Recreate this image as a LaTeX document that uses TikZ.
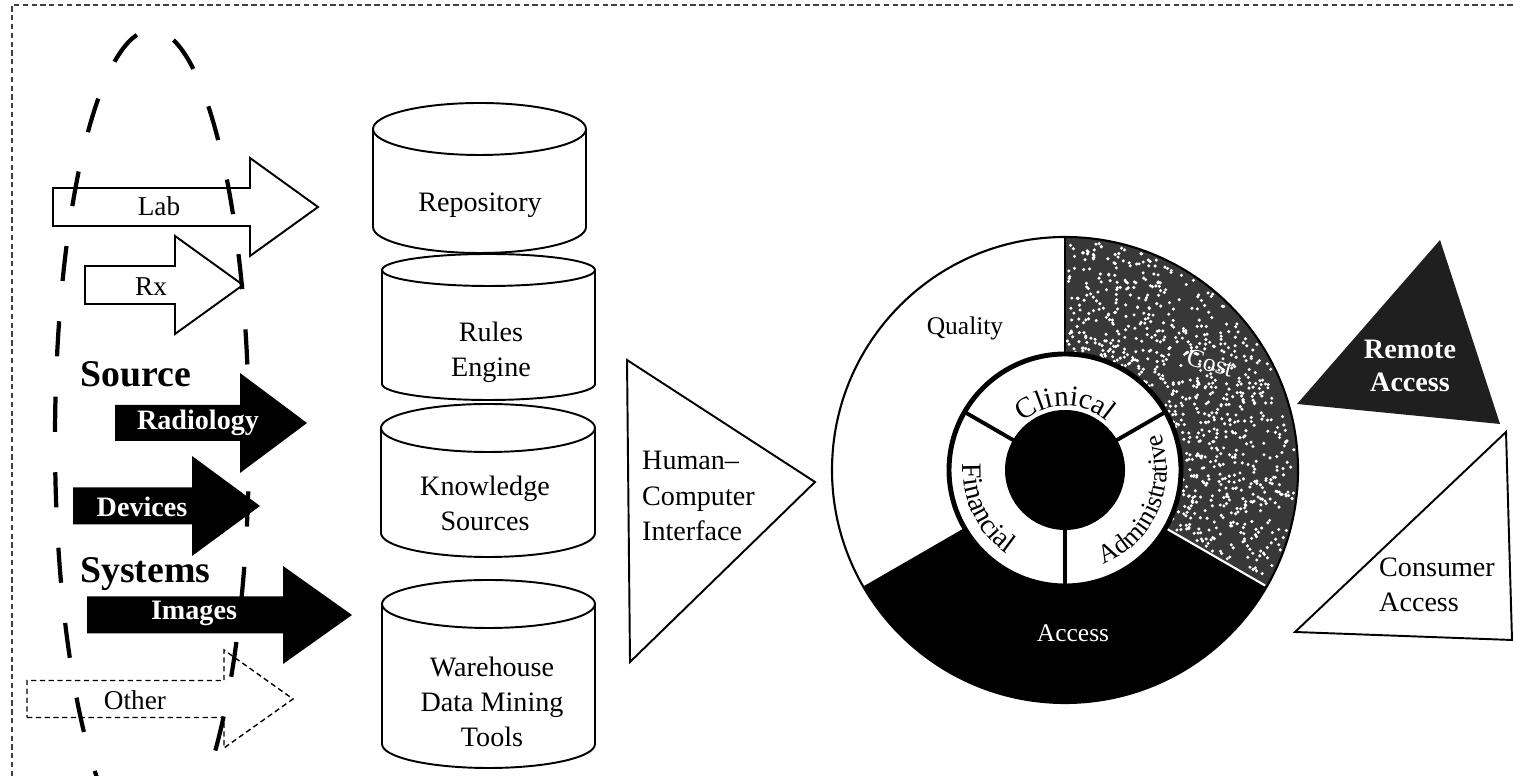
\documentclass[tikz,border=0pt]{standalone}
\usepackage{fontspec}
\setmainfont{Liberation Serif}
\usetikzlibrary{decorations.text}

\newcommand{\srcarrow}[7]{\path[#1] (#2,#5-#6) -- (#3,#5-#6) -- (#3,#5-#7) -- (#4,#5) -- (#3,#5+#7) -- (#3,#5+#6) -- (#2,#5+#6) -- cycle;}
\newcommand{\drum}[5]{%
  \path[drumline] (#1-#2,#3) -- (#1-#2,#4) arc[start angle=180,end angle=360,x radius=#2,y radius=#5]
    -- (#1+#2,#3) arc[start angle=0,end angle=180,x radius=#2,y radius=#5] -- cycle;
  \draw[line width=1.1pt] (#1-#2,#3) arc[start angle=180,end angle=360,x radius=#2,y radius=#5];}

\tikzset{
  frameline/.style={draw=black!75, line width=0.9pt, densely dashed},
  drumline/.style={draw, line width=1.1pt, fill=white},
  drumtext/.style={font=\fontsize{16}{20}\selectfont, align=center},
  hollowarrow/.style={draw, line width=1.1pt, fill=white},
  fadedarrow/.style={hollowarrow, line width=0.8pt, densely dashed},
  solidarrow/.style={fill=black},
  plainlabel/.style={font=\fontsize{15.5}{18}\selectfont},
  darklabel/.style={text=white, font=\bfseries\fontsize{16}{19}\selectfont, align=center},
  bigword/.style={font=\bfseries\fontsize{21.5}{24}\selectfont, anchor=base west, inner sep=0pt},
  ringlabel/.style={font=\fontsize{14.5}{17}\selectfont},
  stipple/.style={fill=black!78},
  speck/.style={fill=white},
  dome/.style={line width=2.4pt, dash pattern=on 20pt off 23pt},
}

\begin{document}
\begin{tikzpicture}[x=0.02cm,y=0.02cm]
\useasboundingbox (0,0) rectangle (1513,776);
\clip (0,0) rectangle (1513,776);
\fill[white] (0,0) rectangle (1513,776);
\draw[frameline] (12,0) -- (12,771) -- (1513,771);

% sources
\srcarrow{hollowarrow}{53}{250}{318}{569}{19}{49}
\srcarrow{hollowarrow}{85}{175}{243}{491}{19}{49}
\srcarrow{fadedarrow}{27}{224}{293}{77}{18.5}{49}
\draw[dome] (152,336) ellipse[x radius=97, y radius=410];
\node[plainlabel] (lab) at (159,570) {Lab};
\node[plainlabel] (rx) at (151,489) {Rx};
\node[plainlabel] (other) at (135,76) {Other};
\node[bigword] (source) at (80,389) {Source};
\srcarrow{solidarrow}{115}{240}{307}{353}{18}{50}
\node[darklabel] (radiology) at (198,353) {Radiology};
\srcarrow{solidarrow}{73}{192}{260}{270}{18.5}{50}
\node[darklabel] (devices) at (142,269) {Devices};
\node[bigword] (systems) at (80,193) {Systems};
\srcarrow{solidarrow}{87}{283}{352}{161}{18.5}{49}
\node[darklabel] (images) at (194,163) {Images};

% stores
\drum{479.5}{106.5}{647}{549}{26}
\node[drumtext] (repository) at (480,571) {Repository};
\drum{488.5}{106.5}{506}{392}{16}
\node[drumtext] (rules) at (491,424) {Rules\\Engine};
\drum{488}{107}{348}{243}{24}
\node[drumtext] (knowledge) at (485,273) {Knowledge\\Sources};
\drum{488.5}{106.5}{172}{32}{24}
\node[drumtext] (warehouse) at (492,74) {Warehouse\\Data Mining\\Tools};

\path[hollowarrow] (627,416) -- (815,294) -- (630,114) -- cycle;
\node[drumtext, align=left, anchor=west] (hci) at (636,280) {Human–\\Computer\\Interface};

% wheel
\begin{scope}[shift={(1065,306)}]
\fill[black] (0,0) -- (210:233) arc[start angle=210,end angle=330,radius=233] -- cycle;
\fill[stipple] (0,0) -- (-30:233) arc[start angle=-30,end angle=90,radius=233] -- cycle;
\pgfmathsetseed{4}
\foreach \i in {1,...,800}{
  \pgfmathsetmacro\ang{-29+118*rnd}
  \pgfmathsetmacro\rad{118+112*rnd}
  \fill[speck] (\ang:\rad) circle[radius=1.7];
}
\draw[line width=1.2pt] (0,0) circle[radius=233];
\draw[line width=1.2pt] (90:116) -- (90:233);
\draw[white, line width=1.2pt] (-30:118) -- (-30:231);
\draw[line width=2.8pt, fill=white] (0,0) circle[radius=116];
\fill (0,0) circle[radius=60];
\foreach \a in {30,150,270}
  \draw[line width=2.2pt] (\a:59) -- (\a:115);
\path[decorate, decoration={text along path, text align=center,
  text={|\fontsize{16.5}{19}\selectfont|Clinical}}]
  (160:64) arc[start angle=160,end angle=20,radius=64];
\path[decorate, decoration={text along path, text align=center,
  text={|\fontsize{16}{19}\selectfont|Financial}}]
  (150:102) arc[start angle=150,end angle=262,radius=102];
\path[decorate, decoration={text along path, text align=center,
  text={|\fontsize{15}{18}\selectfont|Administrative}}]
  (275:102) arc[start angle=275,end angle=398,radius=102];
\end{scope}
\node[ringlabel] (quality) at (965,448) {Quality};
\node[ringlabel, text=white, rotate=-15] (cost) at (1210,413) {Cost};
\node[ringlabel, text=white] (access) at (1073,143) {Access};

% access points
\fill[black!88] (1440,536) -- (1500,352) -- (1297,372) -- cycle;
\node[darklabel] (remote) at (1410,410) {Remote\\Access};
\path[hollowarrow] (1506,344) -- (1512,136) -- (1295,144) -- cycle;
\node[drumtext, align=left] (consumer) at (1437,191) {Consumer\\Access};
\end{tikzpicture}
\end{document}
